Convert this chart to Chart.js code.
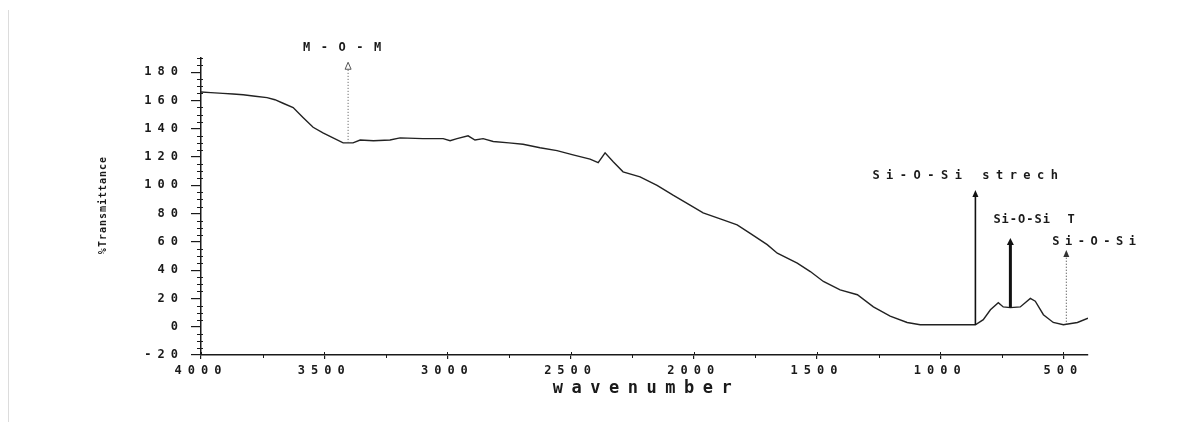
<!DOCTYPE html>
<html>
<head>
<meta charset="utf-8">
<script src="https://cdn.jsdelivr.net/npm/chart.js@4.4.1/dist/chart.umd.min.js"></script>
<style>
  html, body { margin: 0; padding: 0; background: #fff; overflow: hidden; }
  #wrap { position: relative; width: 1201px; height: 430px; }
  #edge { position: absolute; left: 8px; top: 10px; width: 1px; height: 412px; background: #dcdcdc; }
  canvas { position: absolute; left: 0; top: 0; }
</style>
</head>
<body>
<div id="wrap"><div id="edge"></div><canvas id="ftir"></canvas></div>
<script>
// FTIR spectrum: wavenumber (cm-1) vs %Transmittance
const wavenumbers = [4000, 3960, 3911, 3870, 3829, 3780, 3732, 3700, 3667, 3626,
  3586, 3545, 3505, 3464, 3423, 3383, 3354, 3300, 3233, 3192,
  3100, 3017, 2989, 2961, 2916, 2888, 2855, 2814, 2750, 2693,
  2624, 2555, 2490, 2421, 2388, 2360, 2327, 2287, 2218, 2149,
  2084, 2015, 1962, 1881, 1824, 1771, 1702, 1661, 1580, 1527,
  1474, 1406, 1336, 1271, 1203, 1134, 1081, 1000, 930, 865,
  857, 825, 796, 764, 744, 715, 675, 634, 614, 581,
  541, 500, 443, 400];
const transmittance = [166, 165.5, 165, 164.5, 164, 163, 162, 160.5, 158, 155,
  148, 141, 137, 133.5, 130, 130, 132, 131.5, 132, 133.5,
  133, 133, 131.5, 133, 135, 132, 133, 131, 130, 129,
  126.5, 124.5, 121.5, 118.5, 116, 123, 116.6, 109.5, 106, 100,
  93, 86, 80.5, 75.6, 72, 66, 58, 52, 45, 39,
  32, 26, 22.6, 14, 7.5, 3, 1.4, 1.4, 1.4, 1.4,
  1.4, 5, 12, 17, 14, 13.5, 14, 20, 18, 8.5,
  3, 1.4, 3, 6];

const xTicks = [4000, 3500, 3000, 2500, 2000, 1500, 1000, 500];
const yTicks = [-20, 0, 20, 40, 60, 80, 100, 120, 140, 160, 180];

// band assignments: position, arrow foot (on the trace) and arrow tip
const bandWavenumbers = [3403, 857, 715, 488];
const bandBase = [130, 1.4, 13.5, 1.4];
const bandTip = [187, 96.7, 62.7, 54.2];
const bandLabels = ['M-O-M', 'Si-O-Si strech', 'Si-O-Si  T', 'Si-O-Si'];

const xTitle = 'wavenumber';
const yTitle = '%Transmittance';

const MONO = '"DejaVu Sans Mono", "Liberation Mono", monospace';
const INK = '#1a1a1a';

// arrow / label styling per band
const bandStyles = [
  { width: 1, dash: [1, 2], color: '#555', head: 'open', headW: 6, headLen: 7, dx: -45, dy: -14, spacing: 10.5 },
  { width: 1.6, dash: [], color: '#111', head: 'fill', headW: 6, headLen: 7, dx: -103, dy: -14, spacing: 6.5 },
  { width: 3, dash: [], color: '#111', head: 'fill', headW: 7, headLen: 7, dx: -17, dy: -18, spacing: 1 },
  { width: 1, dash: [1, 2], color: '#333', head: 'fill', headW: 6, headLen: 7, dx: -14, dy: -8, spacing: 5.5 }
];

const spectrumDecor = {
  id: 'spectrumDecor',
  beforeDraw(chart) {
    chart.ctx.letterSpacing = '6px';
  },
  afterDraw(chart) {
    const { ctx, chartArea: area } = chart;
    const xs = chart.scales.x, ys = chart.scales.y;
    ctx.save();
    ctx.letterSpacing = '0px';

    // minor ticks on the y axis
    ctx.strokeStyle = INK;
    ctx.lineWidth = 1;
    for (let v = -15; v <= 190; v += 5) {
      if (v % 20 === 0) continue;
      const py = Math.round(ys.getPixelForValue(v)) + 0.5;
      ctx.beginPath();
      ctx.moveTo(area.left - 4, py);
      ctx.lineTo(area.left + 2, py);
      ctx.stroke();
    }
    // minor ticks on the x axis, and major ticks poking above the axis
    for (let v = 3750; v > 400; v -= 500) {
      const px = Math.round(xs.getPixelForValue(v)) + 0.5;
      ctx.beginPath();
      ctx.moveTo(px, area.bottom);
      ctx.lineTo(px, area.bottom + 3);
      ctx.stroke();
    }
    xTicks.forEach(v => {
      const px = Math.round(xs.getPixelForValue(v)) + 0.5;
      ctx.beginPath();
      ctx.moveTo(px, area.bottom - 3);
      ctx.lineTo(px, area.bottom);
      ctx.stroke();
    });

    // band arrows and labels
    bandWavenumbers.forEach((w, i) => {
      const st = bandStyles[i];
      const px = xs.getPixelForValue(w);
      const yb = ys.getPixelForValue(bandBase[i]);
      const yt = ys.getPixelForValue(bandTip[i]);
      ctx.strokeStyle = st.color;
      ctx.lineWidth = st.width;
      ctx.setLineDash(st.dash);
      ctx.beginPath();
      ctx.moveTo(px, yb);
      ctx.lineTo(px, yt + st.headLen - 1);
      ctx.stroke();
      ctx.setLineDash([]);
      ctx.beginPath();
      ctx.moveTo(px, yt);
      ctx.lineTo(px - st.headW / 2, yt + st.headLen);
      ctx.lineTo(px + st.headW / 2, yt + st.headLen);
      ctx.closePath();
      if (st.head === 'fill') {
        ctx.fillStyle = st.color;
        ctx.fill();
      } else {
        ctx.lineWidth = 1;
        ctx.stroke();
      }
      ctx.font = 'bold 12px ' + MONO;
      ctx.letterSpacing = st.spacing + 'px';
      ctx.fillStyle = INK;
      ctx.textAlign = 'left';
      ctx.textBaseline = 'middle';
      ctx.fillText(bandLabels[i], px + st.dx, yt + st.dy);
    });

    // axis titles
    ctx.fillStyle = INK;
    ctx.textBaseline = 'middle';
    ctx.textAlign = 'center';
    ctx.font = 'bold 17px ' + MONO;
    ctx.letterSpacing = '8.5px';
    ctx.fillText(xTitle, (area.left + area.right) / 2 + 2, 389);

    ctx.translate(103, 205);
    ctx.rotate(-Math.PI / 2);
    ctx.font = 'bold 10px ' + MONO;
    ctx.letterSpacing = '1px';
    ctx.fillText(yTitle, 0, 0);
    ctx.restore();
    ctx.letterSpacing = '0px';
  }
};

new Chart(document.getElementById('ftir'), {
  type: 'line',
  data: {
    datasets: [{
      data: wavenumbers.map((w, i) => ({ x: w, y: transmittance[i] })),
      borderColor: '#222',
      borderWidth: 1.4,
      pointRadius: 0,
      tension: 0,
      fill: false
    }]
  },
  options: {
    responsive: true,
    maintainAspectRatio: false,
    animation: false,
    events: [],
    layout: { padding: { top: 58, right: 113, bottom: 0, left: 0 } },
    plugins: { legend: { display: false }, tooltip: { enabled: false } },
    scales: {
      x: {
        type: 'linear',
        reverse: true,
        min: 400,
        max: 4000,
        afterFit(scale) { scale.height = 75; },
        afterBuildTicks(scale) { scale.ticks = xTicks.map(v => ({ value: v })); },
        border: { display: true, color: INK, width: 1.5 },
        grid: { display: true, drawOnChartArea: false, drawTicks: true, tickLength: 4, color: INK, lineWidth: 1.2 },
        ticks: {
          autoSkip: false,
          maxRotation: 0,
          padding: 5,
          color: INK,
          font: { family: MONO, size: 12, weight: 'bold' },
          callback: v => String(v)
        }
      },
      y: {
        min: -20,
        max: 190,
        afterFit(scale) { scale.width = 201; },
        afterBuildTicks(scale) { scale.ticks = yTicks.map(v => ({ value: v })); },
        border: { display: true, color: INK, width: 1.5 },
        grid: { display: true, drawOnChartArea: false, drawTicks: true, tickLength: 10, color: INK, lineWidth: 1.2 },
        ticks: {
          padding: 7,
          color: INK,
          font: { family: MONO, size: 12, weight: 'bold' },
          callback: v => String(v)
        }
      }
    }
  },
  plugins: [spectrumDecor]
});
</script>
</body>
</html>
